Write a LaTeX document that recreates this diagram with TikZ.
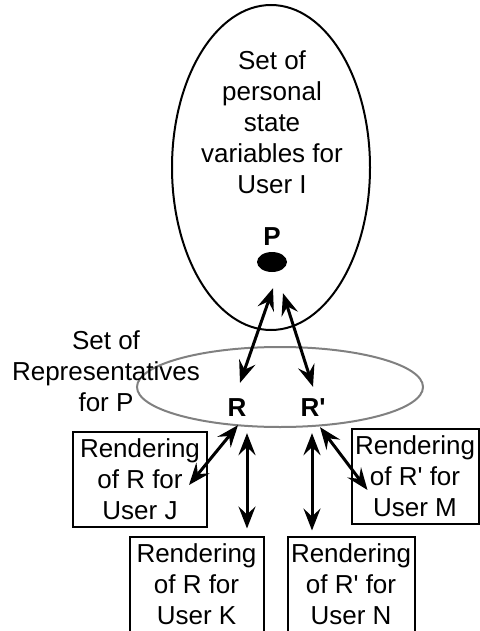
\documentclass[tikz,border=0pt]{standalone}
\usepackage{fontspec}
\setmainfont{Liberation Sans}
\usetikzlibrary{shapes.geometric, arrows.meta}
\tikzstyle{setvars} = [ellipse, draw, line width=2pt, minimum width=198pt,
    minimum height=325pt, inner sep=0pt]
\tikzstyle{repset} = [ellipse, draw=gray, line width=2pt, minimum width=286pt,
    minimum height=80pt, inner sep=0pt]
\tikzstyle{rendering} = [rectangle, draw, line width=2pt, align=center,
    minimum width=134pt, minimum height=95pt, inner sep=2pt]
\tikzstyle{txt} = [align=center, inner sep=2pt]
\tikzstyle{rep} = [font=\fontsize{26}{31}\selectfont\bfseries, inner sep=2pt]
\tikzstyle{biline} = [draw, line width=3pt,
    >={Stealth[length=22pt, width=17pt, inset=8pt]}, <->]

\begin{document}
\begin{tikzpicture}[x=1pt, y=-1pt, font=\fontsize{26}{31}\selectfont]
            \useasboundingbox (0,0) rectangle (479,631);
            % Place nodes
            \node [setvars] (vars) at (271,167.5) {};
            \node [txt] (varstext) at (272,122) {Set of\\personal\\state\\variables for\\User I};
            \node [rep] (P) at (272,237) {P};
            \node [ellipse, fill=black, minimum width=30pt, minimum height=20pt,
                inner sep=0pt, below of=P, node distance=25pt] (dot) {};
            \node [repset] (reps) at (280,387) {};
            \node [txt] (repstext) at (106,371) {Set of\\Representatives\\for P};
            \node [rep] (R) at (237,408) {R};
            \node [rep, right of=R, node distance=76pt] (Rp) {R\textquotesingle};
            \node [rendering] (J) at (140,479) {Rendering\\of R for\\User J};
            \node [rendering] (K) at (196.5,584) {Rendering\\of R for\\User K};
            \node [rendering, minimum width=127pt, right of=K, node distance=154.5pt] (N) {Rendering\\of R\textquotesingle{} for\\User N};
            \node [rendering, minimum width=127pt] (M) at (415,476.5) {Rendering\\of R\textquotesingle{} for\\User M};
            % Draw edges
            \path [biline] ([xshift=1pt,yshift=-16pt]dot.south) -- ([xshift=3pt,yshift=14pt]R.north);
            \path [biline] ([xshift=11pt,yshift=-21pt]dot.south) -- ([yshift=10pt]Rp.north);
            \path [biline] ([xshift=1pt,yshift=-6pt]R.south) -- ([xshift=-19pt,yshift=-6pt]J.east);
            \path [biline] ([xshift=10pt,yshift=-14pt]R.south) -- ([xshift=50.5pt,yshift=7pt]K.north);
            \path [biline] ([xshift=-1pt,yshift=-14pt]Rp.south) -- ([xshift=-39pt,yshift=5pt]N.north);
            \path [biline] ([xshift=7pt,yshift=-8pt]Rp.south) -- ([xshift=17pt,yshift=-13.5pt]M.west);
        \end{tikzpicture}
\end{document}
